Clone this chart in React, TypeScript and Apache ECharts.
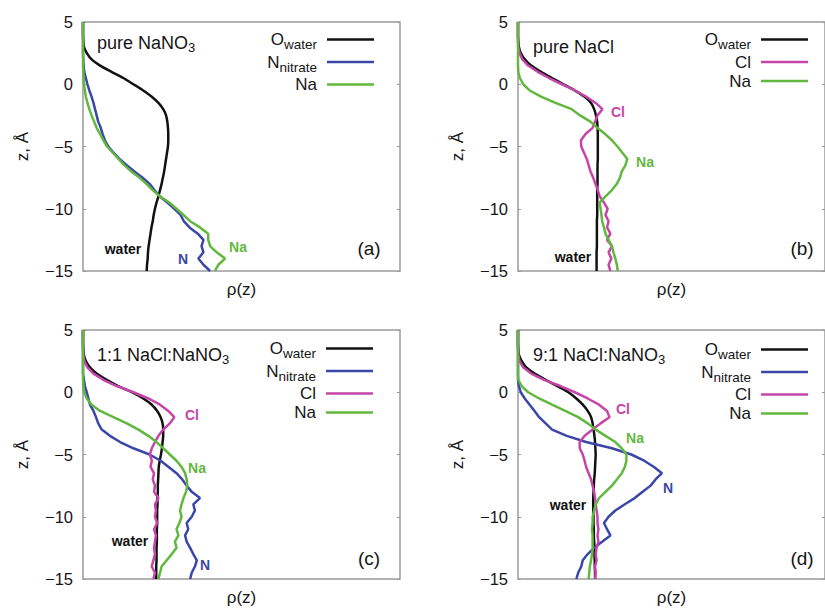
import React, { useEffect, useRef } from 'react';
import * as echarts from 'echarts';

// Depth below the interface, in Å (shared by every profile)
const Z = [5, 4.5, 4, 3.5, 3, 2.5, 2, 1.5, 1, 0.5, 0, -0.5, -1, -1.5, -2, -2.5, -3, -3.5, -4, -4.5,
  -5, -5.5, -6, -6.5, -7, -7.5, -8, -8.5, -9, -9.5, -10, -10.5, -11, -11.5, -12, -12.5, -13, -13.5, -14, -14.5, -15];

// (a) pure NaNO3
const waterA = [0, 0, 0, 0.01, 0.03, 0.12, 0.27, 0.54, 0.90, 1.27,
  1.59, 1.90, 2.17, 2.38, 2.53, 2.62, 2.66, 2.68, 2.69, 2.69,
  2.68, 2.65, 2.62, 2.59, 2.56, 2.52, 2.48, 2.43, 2.38, 2.32,
  2.27, 2.23, 2.20, 2.16, 2.13, 2.10, 2.07, 2.05, 2.04, 2.02,
  2.01];
const nitrateA = [0, 0, 0, 0, 0, 0, 0.01, 0.02, 0.04, 0.09,
  0.14, 0.20, 0.27, 0.33, 0.38, 0.43, 0.48, 0.56, 0.62, 0.69,
  0.80, 0.96, 1.15, 1.38, 1.62, 1.88, 2.10, 2.25, 2.42, 2.66,
  2.88, 3.08, 3.18, 3.36, 3.62, 3.80, 3.74, 3.80, 3.64, 3.80,
  4.01];
const naA = [0, 0, 0, 0, 0, 0, 0, 0, 0.01, 0.02,
  0.03, 0.06, 0.09, 0.14, 0.20, 0.27, 0.35, 0.43, 0.54, 0.64,
  0.76, 0.94, 1.12, 1.30, 1.52, 1.78, 2.00, 2.20, 2.42, 2.72,
  2.95, 3.17, 3.38, 3.69, 3.95, 3.95, 4.01, 4.22, 4.48, 4.27,
  4.16];

// (b) pure NaCl
const waterB = [0, 0, 0, 0.01, 0.03, 0.09, 0.22, 0.43, 0.75, 1.11,
  1.48, 1.85, 2.17, 2.38, 2.48, 2.54, 2.58, 2.59, 2.60, 2.60,
  2.60, 2.60, 2.60, 2.59, 2.59, 2.59, 2.59, 2.58, 2.58, 2.58,
  2.58, 2.58, 2.57, 2.57, 2.57, 2.57, 2.57, 2.56, 2.56, 2.56,
  2.56];
const clB = [0, 0, 0, 0, 0.01, 0.05, 0.14, 0.33, 0.64, 1.01,
  1.43, 1.85, 2.22, 2.53, 2.75, 2.59, 2.51, 2.43, 2.20, 2.05,
  2.06, 2.15, 2.24, 2.30, 2.36, 2.45, 2.52, 2.60, 2.66, 2.80,
  2.92, 2.85, 2.95, 2.90, 3.01, 2.90, 3.06, 2.95, 3.04, 2.95,
  3.01];
const naB = [0, 0, 0, 0, 0, 0, 0, 0, 0.01, 0.06,
  0.17, 0.38, 0.75, 1.22, 1.75, 2.02, 2.36, 2.58, 2.84, 3.06,
  3.24, 3.40, 3.56, 3.50, 3.38, 3.32, 3.22, 3.06, 2.85, 2.66,
  2.69, 2.72, 2.74, 2.80, 2.85, 2.95, 3.06, 3.11, 3.17, 3.22,
  3.25];

// (c) 1:1 NaCl:NaNO3
const waterC = [0, 0, 0, 0.01, 0.03, 0.09, 0.22, 0.43, 0.75, 1.11,
  1.54, 1.90, 2.17, 2.34, 2.45, 2.51, 2.53, 2.53, 2.51, 2.49,
  2.46, 2.42, 2.39, 2.38, 2.37, 2.36, 2.36, 2.35, 2.35, 2.34,
  2.34, 2.34, 2.33, 2.33, 2.33, 2.32, 2.32, 2.32, 2.31, 2.31,
  2.31];
const nitrateC = [0, 0, 0, 0, 0, 0, 0, 0, 0.03, 0.06,
  0.12, 0.17, 0.22, 0.33, 0.41, 0.48, 0.59, 0.85, 1.17, 1.59,
  2.10, 2.45, 2.70, 2.95, 3.13, 3.27, 3.43, 3.69, 3.48, 3.53,
  3.43, 3.27, 3.32, 3.22, 3.27, 3.38, 3.48, 3.59, 3.53, 3.43,
  3.38];
const clC = [0, 0, 0, 0, 0.01, 0.04, 0.14, 0.33, 0.64, 1.06,
  1.59, 2.06, 2.43, 2.69, 2.88, 2.74, 2.53, 2.38, 2.27, 2.17,
  2.11, 2.17, 2.13, 2.24, 2.20, 2.27, 2.24, 2.38, 2.27, 2.30,
  2.27, 2.34, 2.24, 2.30, 2.27, 2.24, 2.27, 2.22, 2.17, 2.27,
  2.22];
const naC = [0, 0, 0, 0, 0, 0, 0, 0, 0, 0.01,
  0.03, 0.12, 0.27, 0.54, 0.96, 1.38, 1.75, 2.06, 2.32, 2.53,
  2.74, 2.95, 3.11, 3.22, 3.27, 3.29, 3.25, 3.17, 3.11, 3.06,
  3.11, 3.04, 2.95, 3.01, 2.90, 2.95, 2.80, 2.64, 2.48, 2.43,
  2.38];

// (d) 9:1 NaCl:NaNO3
const waterD = [0, 0, 0, 0.01, 0.03, 0.12, 0.27, 0.54, 0.90, 1.27,
  1.64, 1.90, 2.11, 2.27, 2.38, 2.43, 2.46, 2.49, 2.51, 2.52,
  2.53, 2.52, 2.51, 2.50, 2.48, 2.47, 2.46, 2.45, 2.45, 2.45,
  2.46, 2.46, 2.47, 2.47, 2.48, 2.49, 2.49, 2.50, 2.50, 2.51,
  2.51];
const nitrateD = [0, 0, 0, 0, 0, 0, 0, 0, 0, 0.03,
  0.09, 0.22, 0.38, 0.54, 0.69, 0.90, 1.11, 1.59, 2.22, 3.06,
  3.69, 4.11, 4.43, 4.69, 4.48, 4.32, 4.06, 3.80, 3.48, 3.17,
  2.95, 2.80, 2.90, 3.01, 2.74, 2.48, 2.27, 2.11, 2.06, 1.96,
  1.90];
const clD = [0, 0, 0, 0, 0.01, 0.05, 0.17, 0.43, 0.85, 1.38,
  1.85, 2.27, 2.64, 2.90, 2.98, 2.69, 2.43, 2.17, 2.01, 2.01,
  2.11, 2.17, 2.22, 2.30, 2.38, 2.43, 2.48, 2.51, 2.53, 2.56,
  2.59, 2.59, 2.62, 2.59, 2.62, 2.56, 2.53, 2.56, 2.51, 2.53,
  2.51];
const naD = [0, 0, 0, 0, 0, 0, 0, 0, 0.01, 0.12,
  0.33, 0.69, 1.11, 1.54, 1.96, 2.27, 2.53, 2.85, 3.17, 3.38,
  3.53, 3.53, 3.48, 3.38, 3.22, 3.06, 2.85, 2.64, 2.53, 2.48,
  2.43, 2.43, 2.41, 2.43, 2.43, 2.43, 2.41, 2.38, 2.34, 2.32,
  2.30];

const Y_TICKS = [5, 0, -5, -10, -15];

const FONT = "'Liberation Sans', Arial, Helvetica, sans-serif";
const TEXT = '#151515';
const FRAME = '#9a9a9a';
const COLORS: Record<string, string> = {
  O_water: '#111111',
  N_nitrate: '#3a47a8',
  Cl: '#c545a8',
  Na: '#62b83f',
};

type Panel = {
  grid: { left: number; top: number; width: number; height: number };
  lines: [string, number[]][];
  legendRight: number;
  legendTop: number;
};

const PANELS: Panel[] = [
  {
    grid: { left: 83, top: 22, width: 317, height: 249 },
    lines: [['O_water', waterA], ['N_nitrate', nitrateA], ['Na', naA]],
    legendRight: 446, legendTop: 26,
  },
  {
    grid: { left: 518, top: 22, width: 317, height: 249 },
    lines: [['O_water', waterB], ['Cl', clB], ['Na', naB]],
    legendRight: 12, legendTop: 26,
  },
  {
    grid: { left: 83, top: 330, width: 317, height: 249 },
    lines: [['O_water', waterC], ['N_nitrate', nitrateC], ['Cl', clC], ['Na', naC]],
    legendRight: 447, legendTop: 335,
  },
  {
    grid: { left: 518, top: 330, width: 317, height: 249 },
    lines: [['O_water', waterD], ['N_nitrate', nitrateD], ['Cl', clD], ['Na', naD]],
    legendRight: 12, legendTop: 336,
  },
];

const richText = {
  m: { fontSize: 17, lineHeight: 24, fontFamily: FONT, color: TEXT },
  s: { fontSize: 13.5, lineHeight: 11, verticalAlign: 'bottom', fontFamily: FONT, color: TEXT },
  g: { width: 5, fontSize: 12, lineHeight: 24 },
};

const legendLabel = (name: string) => {
  if (name === 'O_water') return '{m|O}{s|water}{g| }';
  if (name === 'N_nitrate') return '{m|N}{s|nitrate}{g| }';
  return '{m|' + name + '}{g| }';
};

const minus = (v: number) => String(v).replace('-', '\u2212');

const titleText = (x: number, y: number, text: string) => ({
  type: 'text',
  x, y,
  style: {
    text,
    rich: {
      m: { fontSize: 18, lineHeight: 22, fontFamily: FONT, fill: TEXT },
      s: { fontSize: 13, lineHeight: 10, verticalAlign: 'bottom', fontFamily: FONT, fill: TEXT },
    },
    verticalAlign: 'middle',
    align: 'left',
  },
});

const plainText = (x: number, y: number, text: string, color: string, size: number, bold: boolean) => ({
  type: 'text',
  x, y,
  style: {
    text,
    fill: color,
    fontSize: size,
    fontWeight: bold ? 'bold' : 'normal',
    fontFamily: FONT,
    align: 'center',
    verticalAlign: 'middle',
  },
});

export default function App() {
  const ref = useRef<HTMLDivElement>(null);

  useEffect(() => {
    if (!ref.current) return;
    const chart = echarts.init(ref.current, null, { renderer: 'svg' });

    const grid = PANELS.map((p) => ({
      ...p.grid,
      show: true,
      borderColor: FRAME,
      borderWidth: 1.5,
      backgroundColor: 'transparent',
    }));

    const xAxis = PANELS.map((_, i) => ({
      gridIndex: i,
      type: 'value',
      min: 0,
      max: 10,
      axisLine: { show: false },
      axisTick: { show: false },
      axisLabel: { show: false },
      splitLine: { show: false },
      name: 'ρ(z)',
      nameLocation: 'middle',
      nameGap: 10,
      nameTextStyle: { fontSize: 17, color: TEXT, fontFamily: FONT, verticalAlign: 'top' },
    }));

    const yAxis: any[] = [];
    PANELS.forEach((_, i) => {
      yAxis.push({
        gridIndex: i,
        type: 'value',
        min: Y_TICKS[Y_TICKS.length - 1],
        max: Y_TICKS[0],
        interval: 5,
        axisLine: { show: false },
        axisTick: { show: true, inside: true, length: 3, lineStyle: { color: FRAME, width: 1 } },
        axisLabel: { fontSize: 16.5, color: TEXT, fontFamily: FONT, margin: 10, formatter: minus },
        splitLine: { show: false },
        name: 'z, Å',
        nameLocation: 'middle',
        nameRotate: 90,
        nameGap: 52,
        nameTextStyle: { fontSize: 17, color: TEXT, fontFamily: FONT },
      });
      yAxis.push({
        gridIndex: i,
        type: 'value',
        position: 'right',
        min: Y_TICKS[Y_TICKS.length - 1],
        max: Y_TICKS[0],
        interval: 5,
        axisLine: { show: false },
        axisTick: { show: true, inside: true, length: 3, lineStyle: { color: FRAME, width: 1 } },
        axisLabel: { show: false },
        splitLine: { show: false },
      });
    });

    const series: any[] = [];
    PANELS.forEach((p, i) => {
      p.lines.forEach(([name, vals]) => {
        series.push({
          type: 'line',
          name,
          xAxisIndex: i,
          yAxisIndex: 2 * i,
          data: Z.map((z, k) => [vals[k], z]),
          symbol: 'none',
          smooth: name === 'O_water' ? 0.3 : false,
          lineStyle: { color: COLORS[name], width: 2.5 },
          itemStyle: { color: COLORS[name] },
          z: name === 'Na' ? 4 : 3,
        });
      });
    });

    const legend = PANELS.map((p) => ({
      orient: 'vertical',
      right: p.legendRight,
      top: p.legendTop,
      align: 'right',
      icon: 'rect',
      itemWidth: 47,
      itemHeight: 2.5,
      itemGap: 2,
      selectedMode: false,
      data: p.lines.map(([name]) => name),
      formatter: legendLabel,
      textStyle: { color: TEXT, fontFamily: FONT, rich: richText },
    }));

    const graphic = [
      titleText(97, 43, '{m|pure NaNO}{s|3}'),
      titleText(533, 47, '{m|pure NaCl}'),
      titleText(97, 355, '{m|1:1 NaCl:NaNO}{s|3}'),
      titleText(533, 355, '{m|9:1 NaCl:NaNO}{s|3}'),
      plainText(369, 248, '(a)', TEXT, 19, false),
      plainText(802, 248, '(b)', TEXT, 19, false),
      plainText(369, 558, '(c)', TEXT, 19, false),
      plainText(802, 558, '(d)', TEXT, 19, false),
      // curve annotations
      plainText(123, 249, 'water', COLORS.O_water, 14, true),
      plainText(183, 259, 'N', COLORS.N_nitrate, 14, true),
      plainText(238, 247, 'Na', COLORS.Na, 14, true),
      plainText(618, 112, 'Cl', COLORS.Cl, 14, true),
      plainText(645, 162, 'Na', COLORS.Na, 14, true),
      plainText(573, 257, 'water', COLORS.O_water, 14, true),
      plainText(192, 415, 'Cl', COLORS.Cl, 14, true),
      plainText(197, 468, 'Na', COLORS.Na, 14, true),
      plainText(130, 541, 'water', COLORS.O_water, 14, true),
      plainText(205, 565, 'N', COLORS.N_nitrate, 14, true),
      plainText(623, 409, 'Cl', COLORS.Cl, 14, true),
      plainText(635, 438, 'Na', COLORS.Na, 14, true),
      plainText(668, 488, 'N', COLORS.N_nitrate, 14, true),
      plainText(568, 505, 'water', COLORS.O_water, 14, true),
    ];

    chart.setOption({
      animation: false,
      backgroundColor: '#ffffff',
      grid,
      xAxis,
      yAxis,
      series,
      legend,
      graphic,
    });

    return () => chart.dispose();
  }, []);

  return (
    <div style={{ position: 'fixed', left: 0, top: 0, width: 825, height: 608, background: '#fff' }}>
      <div ref={ref} style={{ width: 825, height: 608 }} />
    </div>
  );
}
